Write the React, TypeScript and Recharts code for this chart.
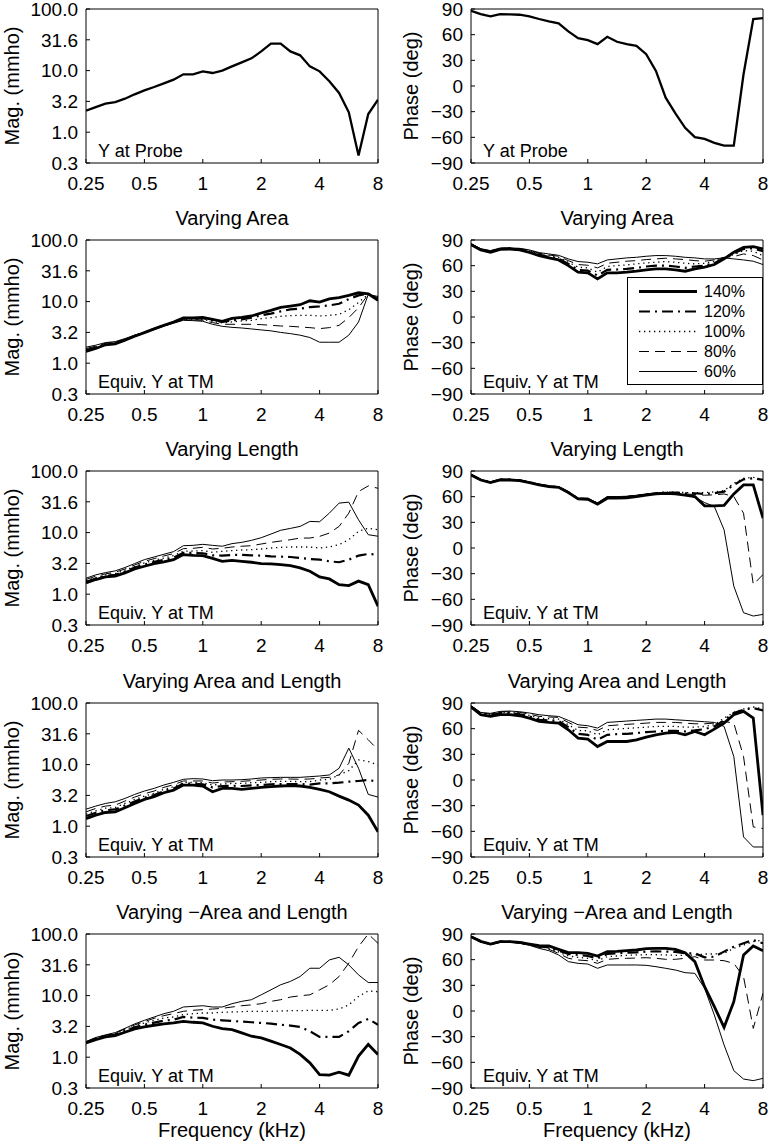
import React from 'react'
import { LineChart, Line, XAxis, YAxis, Legend } from 'recharts'

// 1/6-octave frequency grid (kHz)
const freqs = [0.25, 0.2806, 0.315, 0.3536, 0.3969, 0.4454, 0.5, 0.5612, 0.63, 0.7071, 0.7937, 0.8909, 1, 1.1225, 1.2599, 1.4142, 1.5874, 1.7818, 2, 2.2449, 2.5198, 2.8284, 3.1748, 3.5636, 4, 4.4898, 5.0397, 5.6569, 6.3496, 7.1272, 8]
const freqTicks = [0.25, 0.5, 1, 2, 4, 8]
const magTicks = [0.3162, 1, 3.162, 10, 31.62, 100]
const phaseTicks = [-90, -60, -30, 0, 30, 60, 90]
const levels = ['140%', '120%', '100%', '80%', '60%']

// Y at probe
const probeMag = [2.24, 2.56, 2.9, 3.09, 3.5, 4.12, 4.78, 5.42, 6.21, 7.12, 8.7, 8.7, 9.73, 9.14, 9.98, 11.7, 13.6, 15.8, 20.5, 27.4, 27.4, 20.5, 17.7, 11.7, 9.73, 6.7, 4.33, 2.1, 0.42, 1.97, 3.37]
const probePhase = [88, 84, 81.4, 84, 83.7, 83.3, 81.4, 78.3, 75.5, 73.2, 63.8, 56, 53.6, 48.9, 57.5, 51.7, 48.9, 47, 37.2, 17.6, -13.7, -32, -48.9, -59.8, -61.8, -66.5, -69.6, -69.6, 13.7, 78.3, 79.4]

// Varying area
const areaMag140 = [1.55, 1.73, 1.99, 2.06, 2.36, 2.74, 3.14, 3.6, 4.12, 4.67, 5.42, 5.42, 5.56, 5.15, 4.79, 5.35, 5.56, 5.84, 6.53, 7.2, 8.06, 8.47, 8.9, 10.3, 9.82, 11.1, 11.6, 12.6, 13.9, 13.4, 10.5]
const areaMag120 = [1.63, 1.79, 2.04, 2.11, 2.39, 2.78, 3.14, 3.6, 4.12, 4.62, 5.36, 5.29, 5.36, 4.97, 4.67, 4.97, 5.15, 5.49, 5.98, 6.37, 6.94, 7.48, 7.66, 8.16, 8.36, 8.68, 9.24, 11.0, 12.6, 13.4, 10.7]
const areaMag100 = [1.67, 1.84, 2.06, 2.16, 2.42, 2.81, 3.14, 3.6, 4.12, 4.56, 5.22, 5.15, 5.15, 4.79, 4.5, 4.67, 4.85, 4.97, 5.29, 5.49, 5.77, 5.92, 5.98, 5.98, 5.84, 5.98, 6.21, 7.39, 9.7, 13.1, 11.1]
const areaMag80 = [1.73, 1.89, 2.11, 2.19, 2.45, 2.81, 3.16, 3.6, 4.07, 4.5, 5.09, 5.03, 4.97, 4.56, 4.28, 4.28, 4.28, 4.28, 4.23, 4.12, 4.02, 3.97, 3.87, 3.78, 3.64, 3.78, 4.12, 5.49, 7.96, 13.1, 11.6]
const areaMag60 = [1.82, 1.96, 2.16, 2.24, 2.51, 2.85, 3.16, 3.6, 4.02, 4.45, 4.97, 4.91, 4.79, 4.28, 3.97, 3.82, 3.73, 3.6, 3.47, 3.35, 3.16, 3.02, 2.85, 2.61, 2.19, 2.19, 2.19, 2.85, 4.67, 13.1, 12.1]
const areaPh140 = [84.6, 78.4, 75.6, 79.1, 79.5, 78.4, 75.6, 71.8, 69.1, 66.7, 60.1, 52.4, 51.6, 44.6, 51.6, 51.6, 52.4, 53.5, 55.1, 56.3, 56.3, 55.1, 53.5, 56.3, 58.2, 61.3, 67.9, 75.6, 81.5, 82.2, 79.5]
const areaPh120 = [85.0, 78.7, 76.4, 79.5, 79.9, 78.7, 76.4, 72.9, 70.2, 68.3, 62.1, 55.1, 54.3, 48.5, 55.1, 55.5, 56.3, 57.4, 59.0, 60.1, 60.1, 59.0, 57.4, 59.0, 60.1, 62.8, 69.1, 74.5, 79.5, 80.3, 76.8]
const areaPh100 = [85.3, 79.1, 76.8, 79.9, 80.3, 79.1, 77.2, 73.7, 71.4, 69.8, 64.0, 58.2, 57.4, 52.4, 59.0, 60.1, 60.9, 62.1, 63.2, 64.0, 64.8, 64.0, 62.8, 62.1, 62.8, 64.8, 69.8, 72.9, 77.6, 76.8, 71.8]
const areaPh80 = [85.3, 79.5, 77.2, 80.3, 80.7, 79.9, 78.0, 74.5, 72.5, 71.0, 65.9, 61.3, 60.5, 57.4, 62.8, 64.0, 65.2, 65.9, 67.1, 67.9, 68.7, 67.9, 67.1, 65.9, 65.2, 66.7, 69.8, 70.6, 73.7, 71.8, 66.7]
const areaPh60 = [85.7, 79.9, 77.6, 80.7, 80.7, 80.3, 78.4, 75.3, 73.7, 72.1, 67.9, 64.8, 64.0, 62.1, 66.7, 67.9, 69.1, 69.8, 71.0, 71.8, 71.8, 71.0, 69.8, 69.1, 67.9, 67.9, 69.1, 67.9, 66.7, 65.2, 61.3]

// Varying length
const lengthMag140 = [1.53, 1.73, 1.91, 1.96, 2.22, 2.57, 2.84, 3.14, 3.34, 3.64, 4.39, 4.28, 4.23, 3.82, 3.42, 3.55, 3.42, 3.3, 3.14, 3.1, 3.02, 2.91, 2.67, 2.36, 1.91, 1.77, 1.43, 1.38, 1.63, 1.43, 0.64]
const lengthMag120 = [1.59, 1.79, 1.99, 2.06, 2.33, 2.71, 3.02, 3.34, 3.6, 3.92, 4.67, 4.67, 4.62, 4.28, 4.23, 4.34, 4.34, 4.28, 4.23, 4.12, 4.07, 4.02, 3.87, 3.73, 3.64, 3.42, 3.3, 3.64, 4.23, 4.5, 4.39]
const lengthMag100 = [1.65, 1.86, 2.06, 2.16, 2.45, 2.84, 3.22, 3.55, 3.87, 4.23, 4.97, 5.03, 5.09, 4.79, 4.97, 5.09, 5.22, 5.29, 5.42, 5.62, 5.77, 5.84, 5.84, 5.84, 5.62, 5.84, 6.37, 7.66, 10.5, 11.8, 11.1]
const lengthMag80 = [1.73, 1.96, 2.14, 2.27, 2.57, 2.98, 3.42, 3.78, 4.18, 4.56, 5.49, 5.56, 5.77, 5.42, 5.56, 5.84, 6.0, 6.13, 6.53, 6.94, 7.3, 7.66, 8.16, 8.16, 8.68, 9.82, 12.6, 20.7, 46.3, 57.3, 52.4]
const lengthMag60 = [1.82, 2.06, 2.24, 2.39, 2.71, 3.14, 3.64, 4.02, 4.45, 4.91, 6.13, 6.21, 6.45, 6.21, 6.0, 6.62, 6.94, 7.48, 8.26, 9.47, 10.9, 11.7, 12.6, 15.2, 15.0, 20.7, 30.1, 31.2, 16.1, 9.24, 8.73]
const lengthPh140 = [85.3, 79.5, 76.4, 79.5, 79.5, 78.8, 76.4, 73.7, 71.8, 71.0, 64.8, 57.4, 57.0, 51.2, 58.2, 58.2, 58.6, 60.1, 61.7, 63.2, 64.0, 63.2, 61.7, 60.1, 49.3, 49.3, 49.7, 63.2, 73.7, 73.7, 34.9]
const lengthPh120 = [85.7, 79.9, 76.8, 79.9, 79.9, 79.1, 76.8, 74.1, 72.2, 71.0, 65.2, 57.8, 57.4, 51.6, 59.0, 59.0, 59.4, 60.9, 62.5, 64.0, 64.8, 64.8, 64.0, 64.0, 63.2, 64.0, 65.9, 73.7, 80.3, 81.5, 79.5]
const lengthPh100 = [85.7, 79.9, 76.8, 79.9, 79.9, 79.1, 76.8, 74.1, 72.2, 71.4, 65.2, 57.8, 57.4, 52.0, 59.4, 59.4, 59.7, 61.3, 62.8, 64.4, 65.2, 65.2, 64.8, 64.8, 64.8, 65.6, 67.1, 75.6, 81.5, 82.6, 80.3]
const lengthPh80 = [86.1, 80.3, 77.2, 80.3, 80.3, 79.5, 77.2, 74.5, 72.5, 71.4, 65.6, 58.2, 57.8, 52.4, 59.7, 59.7, 60.1, 61.7, 63.2, 64.4, 64.8, 64.0, 63.2, 62.5, 61.7, 62.1, 63.2, 60.1, 40.7, -42.7, -31.0]
const lengthPh60 = [86.1, 80.3, 77.2, 80.3, 80.3, 79.5, 77.2, 74.5, 72.5, 71.8, 65.6, 58.2, 57.8, 52.8, 60.1, 60.1, 60.5, 61.7, 62.8, 63.6, 64.0, 63.2, 61.7, 59.4, 53.1, 48.5, 21.3, -44.6, -75.6, -79.5, -77.6]

// Varying area and length
const bothMag140 = [1.33, 1.51, 1.67, 1.71, 1.99, 2.34, 2.72, 3.01, 3.49, 3.86, 4.66, 4.66, 4.49, 3.63, 4.11, 4.11, 3.96, 4.11, 4.27, 4.38, 4.49, 4.55, 4.49, 4.27, 3.96, 3.63, 3.08, 2.65, 2.2, 1.51, 0.81]
const bothMag120 = [1.46, 1.65, 1.82, 1.87, 2.17, 2.52, 2.9, 3.2, 3.72, 4.11, 4.9, 4.9, 4.78, 4.27, 4.49, 4.55, 4.49, 4.6, 4.66, 4.78, 4.84, 4.84, 4.84, 4.72, 4.96, 4.96, 5.09, 5.28, 5.42, 5.62, 5.28]
const bothMag100 = [1.57, 1.78, 1.96, 2.01, 2.34, 2.72, 3.08, 3.41, 3.96, 4.38, 5.15, 5.15, 5.09, 4.66, 4.84, 4.96, 4.96, 5.09, 5.15, 5.28, 5.35, 5.35, 5.28, 5.28, 5.62, 5.77, 6.79, 7.98, 11.9, 11.2, 9.88]
const bothMag80 = [1.71, 1.94, 2.12, 2.2, 2.56, 2.97, 3.37, 3.72, 4.27, 4.72, 5.42, 5.42, 5.42, 5.02, 5.21, 5.28, 5.35, 5.48, 5.62, 5.77, 5.84, 5.84, 5.77, 5.84, 6.06, 6.21, 6.79, 10.5, 36.0, 25.3, 17.3]
const bothMag60 = [1.89, 2.12, 2.34, 2.49, 2.82, 3.28, 3.72, 4.11, 4.66, 5.15, 5.77, 5.91, 5.84, 5.48, 5.62, 5.62, 5.69, 5.84, 6.06, 6.14, 6.21, 6.21, 6.21, 6.37, 6.53, 6.79, 8.71, 18.5, 8.71, 3.28, 2.97]
const bothPh140 = [85.3, 76.3, 74.3, 76.3, 76.3, 75.1, 72.4, 68.5, 67.3, 66.5, 58.7, 48.9, 47.7, 39.1, 45.0, 45.0, 45.0, 47.0, 50.1, 52.8, 54.8, 55.6, 52.8, 56.7, 52.8, 59.5, 66.5, 76.3, 80.2, 72.4, -41.1]
const bothPh120 = [85.7, 77.5, 75.5, 78.3, 78.3, 76.7, 74.3, 70.4, 69.7, 68.9, 61.8, 54.0, 52.8, 47.0, 52.8, 53.6, 54.0, 54.8, 56.0, 56.7, 57.5, 57.5, 56.7, 57.9, 59.5, 62.6, 69.7, 78.3, 82.2, 84.1, 81.4]
const bothPh100 = [86.1, 78.3, 76.3, 79.0, 79.0, 77.9, 75.5, 72.4, 71.6, 71.2, 64.6, 57.9, 57.5, 52.8, 58.7, 59.5, 60.3, 61.0, 61.8, 62.6, 62.6, 62.6, 61.8, 61.8, 62.6, 64.6, 72.4, 79.0, 83.0, 85.3, 83.0]
const bothPh80 = [86.5, 78.7, 77.1, 79.8, 79.8, 79.0, 77.1, 74.3, 73.6, 73.2, 67.3, 61.8, 61.0, 57.9, 63.4, 64.2, 65.0, 65.7, 66.5, 67.3, 67.3, 67.3, 66.5, 65.7, 65.7, 66.5, 68.5, 66.5, 27.4, -54.8, -56.7]
const bothPh60 = [86.9, 79.0, 77.9, 80.2, 80.6, 79.8, 78.3, 76.3, 75.1, 74.3, 69.7, 64.6, 63.4, 60.7, 67.3, 68.1, 68.9, 69.7, 70.4, 71.2, 71.2, 70.4, 69.7, 68.9, 68.1, 67.3, 62.6, 27.4, -66.5, -78.3, -78.3]

// Varying -area and length
const negMag140 = [1.7, 1.93, 2.14, 2.24, 2.54, 2.88, 3.1, 3.3, 3.47, 3.6, 3.82, 3.69, 3.6, 3.18, 2.91, 2.81, 2.48, 2.19, 2.06, 1.82, 1.61, 1.41, 1.11, 0.81, 0.52, 0.51, 0.57, 0.51, 1.04, 1.61, 1.11]
const negMag120 = [1.73, 1.99, 2.19, 2.33, 2.67, 3.06, 3.37, 3.64, 3.92, 4.07, 4.5, 4.39, 4.34, 4.07, 3.97, 3.87, 3.78, 3.69, 3.6, 3.51, 3.37, 3.26, 3.1, 2.64, 2.14, 2.14, 2.14, 2.64, 3.6, 4.18, 3.37]
const negMag100 = [1.75, 2.04, 2.24, 2.39, 2.78, 3.22, 3.6, 3.97, 4.34, 4.5, 4.91, 5.09, 5.22, 5.22, 5.36, 5.42, 5.49, 5.56, 5.56, 5.56, 5.62, 5.7, 5.7, 5.77, 5.77, 5.77, 6.05, 7.07, 9.7, 11.9, 11.6]
const negMag80 = [1.77, 2.06, 2.27, 2.45, 2.88, 3.34, 3.78, 4.28, 4.73, 5.09, 5.56, 5.77, 5.92, 6.05, 6.21, 6.53, 6.85, 7.07, 7.39, 8.06, 8.57, 9.47, 9.94, 10.3, 12.4, 15.0, 20.4, 33.6, 62.5, 100, 70.6]
const negMag60 = [1.79, 2.09, 2.3, 2.51, 2.94, 3.47, 3.97, 4.5, 5.09, 5.56, 6.53, 6.69, 6.85, 6.53, 6.53, 7.39, 8.06, 8.57, 10.3, 12.4, 15.0, 17.0, 20.4, 27.8, 27.8, 37.9, 41.9, 31.5, 21.7, 16.3, 16.3]
const negPh140 = [86.9, 81.4, 78.3, 81.0, 81.0, 80.3, 78.3, 76.4, 76.0, 72.1, 68.2, 68.2, 67.4, 64.3, 69.4, 69.7, 70.5, 71.3, 72.9, 73.2, 73.2, 72.1, 68.2, 57.7, 28.4, 5.1, -19.1, 10.9, 65.5, 76.0, 70.5]
const negPh120 = [86.9, 81.4, 78.3, 81.0, 81.0, 80.3, 77.9, 75.6, 74.4, 70.5, 66.6, 65.5, 64.3, 61.6, 66.6, 67.4, 68.2, 68.6, 69.4, 69.7, 69.4, 69.0, 67.4, 67.4, 62.7, 63.5, 69.4, 75.2, 79.1, 83.0, 79.1]
const negPh100 = [87.3, 81.0, 77.9, 80.6, 80.6, 79.9, 77.5, 75.2, 73.2, 69.0, 64.3, 62.7, 61.6, 58.8, 63.5, 64.3, 65.1, 65.5, 65.8, 65.8, 65.5, 65.1, 65.1, 65.5, 66.6, 66.6, 67.4, 73.2, 77.1, 81.0, 83.0]
const negPh80 = [87.3, 81.0, 77.9, 80.6, 80.6, 79.5, 77.1, 74.4, 72.1, 67.4, 61.6, 59.6, 58.8, 55.7, 60.4, 61.2, 61.6, 61.9, 62.3, 61.6, 60.4, 60.4, 61.6, 63.5, 59.6, 59.6, 58.8, 55.7, 40.1, -20.3, 20.7]
const negPh60 = [87.3, 80.6, 77.5, 80.3, 80.3, 79.1, 76.8, 73.2, 70.5, 65.5, 57.7, 55.7, 54.9, 49.9, 53.8, 53.8, 53.8, 53.8, 53.4, 51.8, 49.9, 47.9, 44.8, 44.0, 26.5, -4.7, -39.7, -69.7, -79.5, -81.4, -78.7]

const lineStyles = [
  { width: 2.8, dash: undefined as string | undefined },
  { width: 2.2, dash: '11 5 2 5' },
  { width: 1.3, dash: '1.3 3.7' },
  { width: 1, dash: '10 6' },
  { width: 1, dash: undefined as string | undefined },
]

type PanelCfg = {
  row: number
  col: number
  kind: 'mag' | 'phase'
  title?: string
  note: string
  series: number[][]
  legend?: boolean
}

const TM = 'Equiv. Y at TM'
const panels: PanelCfg[] = [
  { row: 0, col: 0, kind: 'mag', note: 'Y at Probe', series: [probeMag] },
  { row: 0, col: 1, kind: 'phase', note: 'Y at Probe', series: [probePhase] },
  { row: 1, col: 0, kind: 'mag', title: 'Varying Area', note: TM, series: [areaMag140, areaMag120, areaMag100, areaMag80, areaMag60] },
  { row: 1, col: 1, kind: 'phase', title: 'Varying Area', note: TM, series: [areaPh140, areaPh120, areaPh100, areaPh80, areaPh60], legend: true },
  { row: 2, col: 0, kind: 'mag', title: 'Varying Length', note: TM, series: [lengthMag140, lengthMag120, lengthMag100, lengthMag80, lengthMag60] },
  { row: 2, col: 1, kind: 'phase', title: 'Varying Length', note: TM, series: [lengthPh140, lengthPh120, lengthPh100, lengthPh80, lengthPh60] },
  { row: 3, col: 0, kind: 'mag', title: 'Varying Area and Length', note: TM, series: [bothMag140, bothMag120, bothMag100, bothMag80, bothMag60] },
  { row: 3, col: 1, kind: 'phase', title: 'Varying Area and Length', note: TM, series: [bothPh140, bothPh120, bothPh100, bothPh80, bothPh60] },
  { row: 4, col: 0, kind: 'mag', title: 'Varying \u2212Area and Length', note: TM, series: [negMag140, negMag120, negMag100, negMag80, negMag60] },
  { row: 4, col: 1, kind: 'phase', title: 'Varying \u2212Area and Length', note: TM, series: [negPh140, negPh120, negPh100, negPh80, negPh60] },
]

// layout
const ROW_TOPS = [9, 240, 471, 703, 934]
const COL_LEFT = [0, 385]
const CHART_W = 385
const PLOT_H = 154
const AXIS_W = 60
const LEFT_PAD = 26
const PLOT_LEFT = LEFT_PAD + AXIS_W

const LegendBox = () => (
  <svg width={136} height={108} style={{ display: 'block' }}>
    <rect x={0.5} y={0.5} width={135} height={107} fill="#fff" stroke="#000" />
    {levels.map((lv, i) => {
      const y = 14.5 + i * 20
      const st = lineStyles[i]
      return (
        <g key={lv}>
          <line x1={12} x2={70} y1={y} y2={y} stroke="#000" strokeWidth={st.width} strokeDasharray={st.dash} />
          <text x={77} y={y} dy="0.36em" fontSize={16} fill="#000">{lv}</text>
        </g>
      )
    })}
  </svg>
)

const Panel = ({ cfg }: { cfg: PanelCfg }) => {
  const plotTop = ROW_TOPS[cfg.row]
  const top = Math.max(0, plotTop - 40)
  const mTop = plotTop - top
  const last = cfg.row === 4
  const below = last ? 56 : 38
  const height = mTop + PLOT_H + below
  const plotBottom = mTop + PLOT_H
  const isMag = cfg.kind === 'mag'
  const single = cfg.series.length === 1

  const data = freqs.map((f, i) => {
    const row: Record<string, number> = { f }
    cfg.series.forEach((s, j) => { row['s' + j] = s[i] })
    return row
  })

  const yDomain = isMag ? [0.3162, 100] : [-90, 90]
  const yTicks = isMag ? magTicks : phaseTicks
  const yFmt = isMag ? (v: number) => v.toFixed(1) : (v: number) => (v < 0 ? '\u2212' + -v : String(v))
  const yTitle = isMag ? 'Mag. (mmho)' : 'Phase (deg)'
  const yTitleX = isMag ? 18.5 : 33
  const axisFont = { fill: '#000', fontSize: 19 }

  return (
    <div style={{ position: 'absolute', left: COL_LEFT[cfg.col], top, width: CHART_W, height }}>
      <LineChart width={CHART_W} height={height} data={data} margin={{ top: mTop - 1, right: 6, bottom: below - 30, left: LEFT_PAD }}>
        <XAxis dataKey="f" type="number" scale="log" domain={[0.25, 8]} ticks={freqTicks} interval={0} allowDataOverflow
          stroke="#000" tick={axisFont} tickSize={-4} tickMargin={18} height={30}
          label={last ? { content: () => <text x={232} y={plotBottom + 49} textAnchor="middle" fontSize={20} fill="#000">Frequency (kHz)</text> } : undefined} />
        <XAxis xAxisId="top" orientation="top" dataKey="f" type="number" scale="log" domain={[0.25, 8]} ticks={freqTicks} interval={0} allowDataOverflow
          stroke="#000" tick={false} tickSize={-4} height={1}
          label={cfg.title ? { content: () => <text x={232} y={mTop - 15} textAnchor="middle" fontSize={20} fill="#000">{cfg.title}</text> } : undefined} />
        <YAxis type="number" scale={isMag ? 'log' : 'linear'} domain={yDomain} ticks={yTicks} interval={0} allowDataOverflow
          stroke="#000" tick={axisFont} tickFormatter={yFmt} tickSize={-4} tickMargin={12} width={AXIS_W}
          label={{ content: () => <text x={yTitleX} y={mTop + PLOT_H / 2} transform={`rotate(-90 ${yTitleX} ${mTop + PLOT_H / 2})`} textAnchor="middle" fontSize={20} fill="#000">{yTitle}</text> }} />
        <YAxis yAxisId="right" orientation="right" type="number" scale={isMag ? 'log' : 'linear'} domain={yDomain} ticks={yTicks} interval={0} allowDataOverflow
          stroke="#000" tick={false} tickSize={-4} width={1}
          label={{ content: () => <text x={PLOT_LEFT + 12} y={plotBottom - 6.5} fontSize={18} fill="#000">{cfg.note}</text> }} />
        {cfg.legend && (
          <Legend layout="vertical" align="center" verticalAlign="middle" content={() => <LegendBox />}
            wrapperStyle={{ left: 242, top: 77, width: 136, height: 108 }} />
        )}
        {cfg.series.map((_, j) => cfg.series.length - 1 - j).map((j) => (
          <Line key={j} dataKey={'s' + j} name={single ? 'Y' : levels[j]} type="linear" dot={false} activeDot={false}
            stroke="#000" strokeWidth={single ? 2.3 : lineStyles[j].width} strokeDasharray={single ? undefined : lineStyles[j].dash}
            isAnimationActive={false} />
        ))}
      </LineChart>
    </div>
  )
}

export default function App() {
  return (
    <div style={{ position: 'absolute', left: 0, top: 0, width: 769, height: 1142, background: '#fff', overflow: 'hidden', fontFamily: '"Liberation Sans", Arial, Helvetica, sans-serif' }}>
      {panels.map((p) => <Panel key={p.row + '-' + p.col} cfg={p} />)}
    </div>
  )
}
